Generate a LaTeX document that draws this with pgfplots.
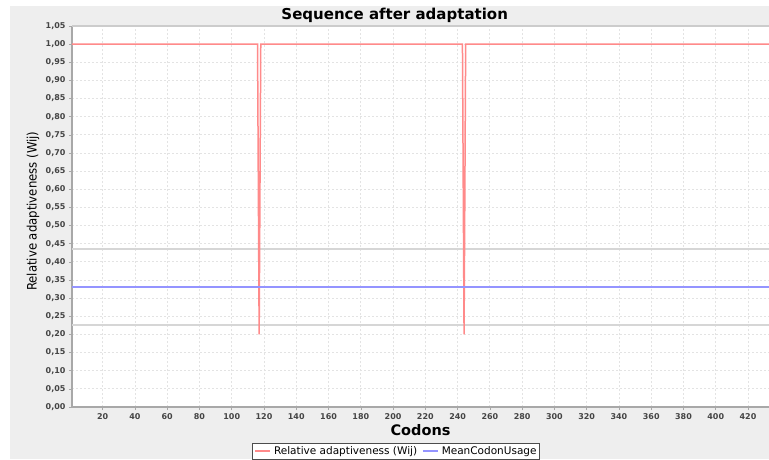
\documentclass[border=0pt]{standalone}
\usepackage{fontspec}
\setmainfont{DejaVu Sans}
\newfontfamily\narrow{DejaVu Sans Condensed}
\usepackage{pgfplots}
\pgfplotsset{compat=1.18}

\definecolor{panel}{HTML}{EEEEEE}
\definecolor{wred}{HTML}{FF8A8A}
\definecolor{meanblue}{HTML}{9494FF}
\definecolor{band}{HTML}{D6D6D6}
\definecolor{axgray}{HTML}{A8A8A8}
\definecolor{ticktext}{HTML}{444444}

\newcommand\legline[1]{\tikz[baseline=-3.6pt]\draw[#1, line width=1.6pt] (0pt,0pt) -- (15pt,0pt);}

\begin{document}
\begin{tikzpicture}[x=1pt,y=1pt]
\useasboundingbox (0,0) rectangle (769,459);
\fill[white] (0,0) rectangle (769,459);
\fill[panel] (10,0) rectangle (769,453);
\begin{axis}[
    at={(72pt,52pt)}, anchor=south west,
    scale only axis,
    width=697pt, height=381pt,
    xmin=1, xmax=433,
    ymin=0, ymax=1.05,
    axis background/.style={fill=white},
    axis x line*=bottom, axis y line*=left,
    axis line style={axgray, line width=1.5pt},
    every inner x axis line/.append style={-}, every inner y axis line/.append style={-},
    xtick={20,40,...,420},
    ytick={0,0.05,...,1.06},
    tick align=outside, major tick length=3pt,
    tick style={axgray, line width=0.6pt},
    grid=major,
    major grid style={dash pattern=on 2pt off 2pt, draw=black!11, line width=0.8pt},
    /pgf/number format/assume math mode=true,
    ticklabel style={font=\fontsize{8}{10}\selectfont\bfseries, text=ticktext},
    yticklabel style={/pgf/number format/.cd, fixed, fixed zerofill, precision=2, use comma},
    xticklabel style={/pgf/number format/.cd, fixed, precision=0},
    title={Sequence after adaptation},
    title style={at={(0.463,1.013)}, anchor=center, font=\fontsize{15}{17}\selectfont\bfseries},
    xlabel={Codons},
    xlabel style={at={(0.5,-0.060)}, anchor=center, font=\fontsize{14.5}{16}\selectfont\bfseries},
    ylabel={Relative adaptiveness (Wij)},
    ylabel style={at={(-0.056,0.514)}, anchor=center, font=\narrow\fontsize{13}{15}\selectfont},
]
% band lines (mean +/- spread)
\addplot[draw=band, line width=1.6pt] coordinates {(1,0.435) (433,0.435)};
\addplot[draw=band, line width=1.6pt] coordinates {(1,0.226) (433,0.226)};
% relative adaptiveness per codon
\addplot[draw=wred, line width=1.5pt] coordinates {
    (1,1) (116,1) (117,0.2) (118,1) (243,1) (244,0.2) (245,1) (433,1)};
% mean codon usage
\addplot[draw=meanblue, line width=1.6pt] coordinates {(1,0.33) (433,0.33)};
\end{axis}
\draw[black!20, line width=1.5pt] (72,433) -- (769,433);
% legend box at the bottom, cut by the lower edge as in the original
\node[draw=black!70, line width=0.8pt, fill=white, anchor=north, inner xsep=2.5pt, inner ysep=3pt,
      font=\fontsize{10.5}{12}\selectfont] at (395.5,16)
  {\legline{wred}\hspace{3pt}Relative adaptiveness (Wij)\hspace{5pt}\legline{meanblue}\hspace{3pt}MeanCodonUsage};
\end{tikzpicture}
\end{document}
